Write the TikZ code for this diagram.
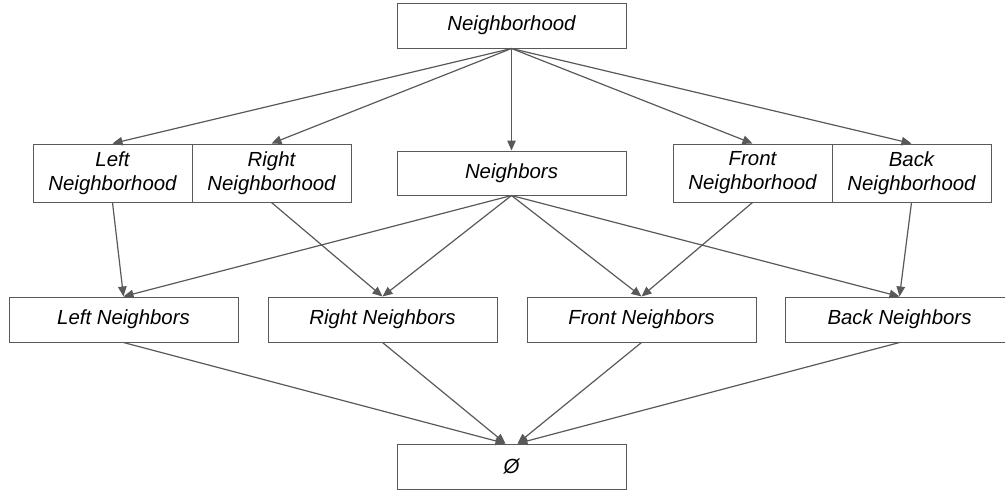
\documentclass[tikz,border=0pt]{standalone}
\usepackage{fontspec}
\setmainfont{Liberation Sans}
\usetikzlibrary{arrows.meta,calc}
\definecolor{linegray}{HTML}{595959}
\begin{document}
\begin{tikzpicture}[x=1pt,y=-1pt,
  box/.style={draw=linegray, line width=1pt, inner sep=0pt, align=center,
    font=\fontsize{20.4}{24}\selectfont\itshape, text=black},
  wide/.style={box, minimum width=229pt, minimum height=45pt},
  pair/.style={box, minimum width=159pt, minimum height=58pt},
  conn/.style={draw=linegray, line width=1.2pt, -{Triangle[length=10pt,width=8.5pt]}}]
\useasboundingbox (0,0) rectangle (1005,491);
\node[wide] (top) at (511.5,25.5) {Neighborhood};
\node[pair] (ln) at (112.5,173) {Left\\Neighborhood};
\node[pair] (rn) at (271.5,173) {Right\\Neighborhood};
\node[wide, minimum height=44pt] (nb) at (511.5,173) {Neighbors};
\node[pair] (fn) at (752.5,173) {Front\\Neighborhood};
\node[pair] (bn) at (911.5,173) {Back\\Neighborhood};
\node[wide] (lns) at (123.5,319.5) {Left Neighbors};
\node[wide] (rns) at (382.5,319.5) {Right Neighbors};
\node[wide] (fns) at (641.5,319.5) {Front Neighbors};
\node[wide] (bns) at (899.5,319.5) {Back Neighbors};
\node[wide] (empty) at (511.5,466.5) {Ø};
\foreach \t in {ln,rn,nb,fn,bn} \draw[conn] (top.south) -- (\t.north);
\draw[conn] (ln.south) -- (lns.north);
\draw[conn] (rn.south) -- (rns.north);
\draw[conn] (fn.south) -- (fns.north);
\draw[conn] (bn.south) -- (bns.north);
\foreach \t in {lns,rns,fns,bns} \draw[conn] (nb.south) -- (\t.north);
\draw[conn] (lns.south) -- ($(empty.north)+(-6,0)$);
\draw[conn] (rns.south) -- ($(empty.north)+(-6,0)$);
\draw[conn] (fns.south) -- ($(empty.north)+(6,0)$);
\draw[conn] (bns.south) -- ($(empty.north)+(6,0)$);
\end{tikzpicture}
\end{document}
